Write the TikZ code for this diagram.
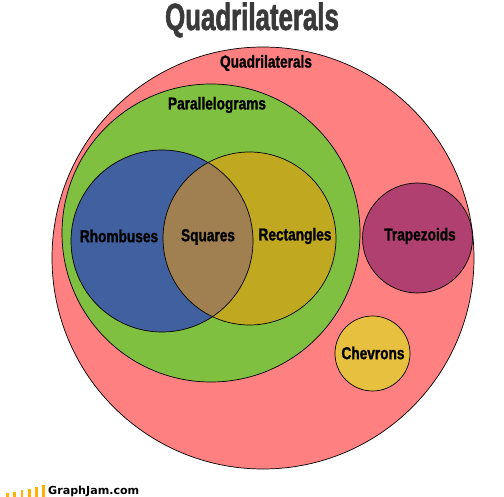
\documentclass[tikz,border=0pt]{standalone}
\usepackage{fontspec}
\setmainfont{Liberation Sans}
\newfontfamily\labelfont[FakeStretch=0.79,FakeBold=1.2]{Liberation Sans Bold}
\newfontfamily\titlefont[FakeStretch=0.68,FakeBold=1.5]{Liberation Sans Bold}
\newfontfamily\logofont{DejaVu Sans Bold}
\definecolor{quadred}{RGB}{255,128,128}
\definecolor{paragreen}{RGB}{128,192,64}
\definecolor{rhomblue}{RGB}{64,96,160}
\definecolor{rectyellow}{RGB}{192,168,32}
\definecolor{squarebrown}{RGB}{160,128,80}
\definecolor{trapmag}{RGB}{176,64,112}
\definecolor{chevyellow}{RGB}{232,192,64}
\definecolor{titlegray}{RGB}{58,58,58}
\definecolor{barorange}{RGB}{255,176,0}
\tikzset{
  setcircle/.style={circle, draw=black, line width=0.7pt, inner sep=0pt, minimum size=#1},
  setlabel/.style={font=\labelfont\fontsize{17.3}{17.3}\selectfont, text=black, inner sep=0pt},
  logobar/.style={fill=barorange, draw=none}
}
\begin{document}
\begin{tikzpicture}[x=1pt,y=-1pt]
\useasboundingbox[fill=white] (0,0) rectangle (504,497);
% circles
\node[setcircle=422pt, fill=quadred] (quad) at (263,258) {};
\node[setcircle=298pt, fill=paragreen] (para) at (211,233) {};
\node[setcircle=110pt, fill=trapmag] (trap) at (417.5,238) {};
\node[setcircle=75pt, fill=chevyellow] (chev) at (372.5,353.5) {};
\fill[rhomblue] (162,241) circle (91);
\fill[rectyellow] (249.5,238.5) circle (86.5);
\begin{scope}
  \clip (162,241) circle (91);
  \fill[squarebrown] (249.5,238.5) circle (86.5);
\end{scope}
\node[setcircle=182pt] (rhomb) at (162,241) {};
\node[setcircle=173pt] (rect) at (249.5,238.5) {};
% labels
\node[font=\titlefont\fontsize{38}{38}\selectfont, text=titlegray, inner sep=0pt] (title) at (252,20) {Quadrilaterals};
\node[setlabel] (lquad) at (266,63) {Quadrilaterals};
\node[setlabel] (lpara) at (217,105) {Parallelograms};
\node[setlabel] (lrhomb) at (119,236) {Rhombuses};
\node[setlabel] (lsq) at (208,237) {Squares};
\node[setlabel] (lrect) at (295,236) {Rectangles};
\node[setlabel] (ltrap) at (420,236) {Trapezoids};
\node[setlabel] (lchev) at (373,353) {Chevrons};
% logo
\fill[logobar] (6,493) rectangle (8.7,497);
\fill[logobar] (13,492) rectangle (15.7,497);
\fill[logobar] (20.5,490) rectangle (23.2,497);
\fill[logobar] (28,488.5) rectangle (30.7,497);
\fill[logobar] (35,486.5) rectangle (37.7,497);
\fill[logobar] (42,485) rectangle (44.7,497);
\node[font=\logofont\fontsize{11.1}{11.1}\selectfont, anchor=west, inner sep=0pt] (logo) at (48,491) {GraphJam.com};
\end{tikzpicture}
\end{document}
